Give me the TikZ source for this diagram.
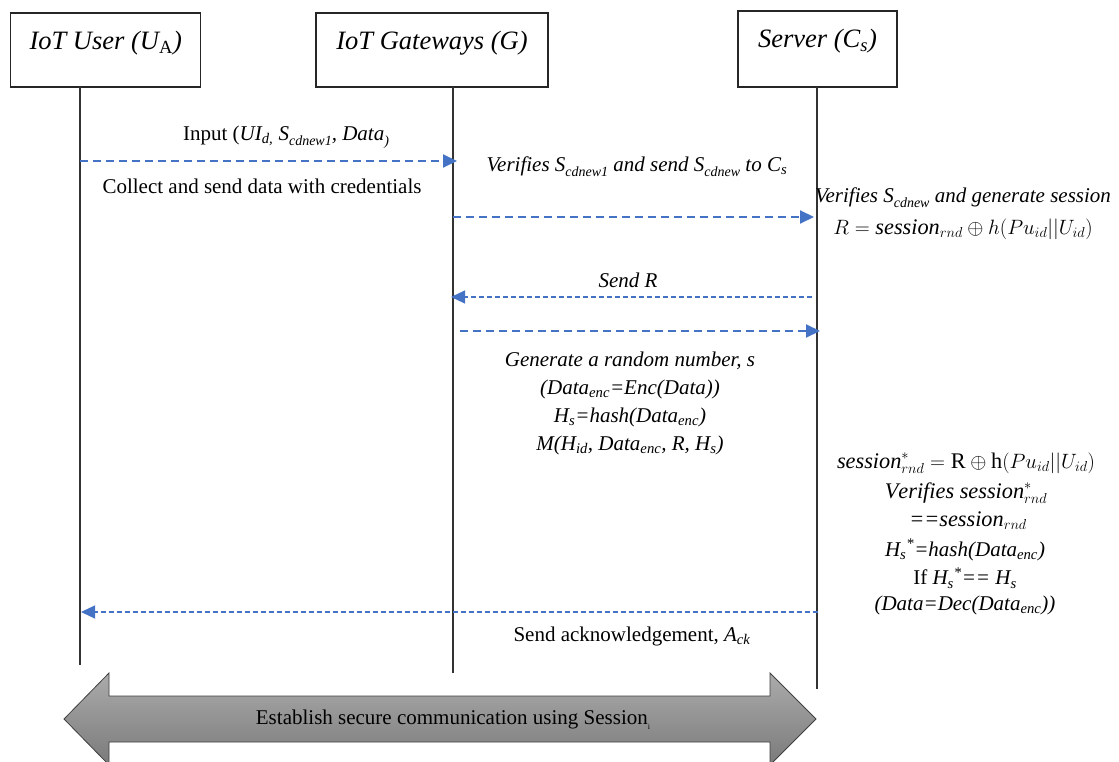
\documentclass[tikz,border=0pt]{standalone}
\usepackage{fontspec}
\setmainfont{Liberation Serif}
\usetikzlibrary{arrows.meta}
\newcommand\lsub[1]{\raisebox{-0.55ex}{\fontsize{14}{14}\selectfont #1}}
\definecolor{msgblue}{HTML}{4472C4}
\tikzset{
  actorbox/.style={draw=black!85, line width=1.1pt, inner sep=0pt},
  lifeline/.style={draw=black!80, line width=1.1pt},
  bigmsg/.style={draw=msgblue, line width=2pt, dash pattern=on 8pt off 5pt, -{Triangle[length=14pt,width=13pt]}},
  smallmsg/.style={draw=msgblue, line width=1.2pt, dash pattern=on 5pt off 3pt, -{Triangle[length=14pt,width=13pt]}},
  txt/.style={font=\fontsize{21}{24}\selectfont, inner sep=0pt, align=center},
  itxt/.style={font=\fontsize{21}{24}\selectfont\itshape, inner sep=0pt, align=center},
  mtxt/.style={font=\fontsize{22.3}{24}\selectfont, inner sep=0pt, align=center},
  head/.style={font=\fontsize{26.5}{30}\selectfont\itshape, inner sep=0pt},
}
\begin{document}
\begin{tikzpicture}[x=1pt,y=-1pt]
\useasboundingbox (0,0) rectangle (1119,762);

% actor boxes
\node[actorbox, minimum width=190pt, minimum height=74pt] (ua) at (105.7,50) {};
\node[actorbox, minimum width=232pt, minimum height=74pt] (g) at (432,50) {};
\node[actorbox, minimum width=159pt, minimum height=76pt] (cs) at (817.5,49) {};
\node[head] (uat) at (105.7,43) {IoT User (\textit{U}\textsubscript{\upshape A})};
\node[head] (gt) at (432,43) {IoT Gateways (\textit{G})};
\node[head] (cst) at (817.5,41) {Server (\textit{C\textsubscript{s}})};

% lifelines
\coordinate (ua1) at (80,87);  \coordinate (ua2) at (80,665);
\coordinate (g1) at (453,87);  \coordinate (g2) at (453,673);
\coordinate (cs1) at (817,87); \coordinate (cs2) at (817,689);
\draw[lifeline] (ua1) -- (ua2);
\draw[lifeline] (g1) -- (g2);
\draw[lifeline] (cs1) -- (cs2);

% messages
\coordinate (m1a) at (80,161);  \coordinate (m1b) at (457,161);
\coordinate (m2a) at (453,217); \coordinate (m2b) at (814,217);
\coordinate (m3a) at (812,297); \coordinate (m3b) at (451,297);
\coordinate (m4a) at (460,331); \coordinate (m4b) at (820,331);
\coordinate (m5a) at (818,612); \coordinate (m5b) at (81,612);
\draw[bigmsg] (m1a) -- (m1b);
\draw[bigmsg] (m2a) -- (m2b);
\draw[smallmsg] (m3a) -- (m3b);
\draw[bigmsg] (m4a) -- (m4b);
\draw[smallmsg] (m5a) -- (m5b);

% labels
\node[txt] (l1) at (286,137) {Input (\textit{UI\textsubscript{d,} S\lsub{cdnew1}, Data\lsub{)}}};
\node[txt] (l2) at (262,186) {Collect and send data with credentials};
\node[itxt] (l3) at (637,167) {Verifies S\lsub{cdnew1} and send S\lsub{cdnew} to C\textsubscript{s}};
\node[itxt] (l4) at (963,198) {Verifies S\lsub{cdnew} and generate session};
\node[mtxt] (l5) at (963,229) {$R = \mathit{session}_{rnd} \oplus h(Pu_{id}||U_{id})$};
\node[itxt] (l6) at (628,280) {Send R};
\node[itxt] (l7) at (630,403) {Generate a random number, s\\[4pt]
  (Data\textsubscript{enc}=Enc(Data))\\[4pt]
  H\textsubscript{s}=hash(Data\textsubscript{enc})\\[4pt]
  M(H\textsubscript{id}, Data\textsubscript{enc}, R, H\textsubscript{s})};
\node[mtxt] (l8a) at (966,463) {$\mathit{session}^{*}_{rnd} = \mathrm{R} \oplus \mathrm{h}(Pu_{id}||U_{id})$};
\node[mtxt] (l8b) at (966,493) {$\mathit{Verifies}\ \mathit{session}^{*}_{rnd}$};
\node[mtxt] (l8c) at (968,521) {\textit{==}$\mathit{session}_{rnd}$};
\node[txt] (l8d) at (965,550) {\textit{H\textsubscript{s}\textsuperscript{*}=hash(Data\textsubscript{enc})}};
\node[txt] (l8e) at (965,578) {If \textit{H\textsubscript{s}\textsuperscript{*}== H\textsubscript{s}}};
\node[txt] (l8f) at (965,605) {\textit{(Data=Dec(Data\textsubscript{enc}))}};
\node[txt] (l9) at (632,636) {Send acknowledgement, \textit{A\textsubscript{ck}}};

% big double arrow
\draw[draw=black!75, line width=0.8pt, top color=black!33, bottom color=black!52]
  (64,719) -- (109,673) -- (109,696) -- (770,696) -- (770,673) -- (816,719)
  -- (770,765) -- (770,742) -- (109,742) -- (109,765) -- cycle;
\node[txt] (l10) at (453,720) {Establish secure communication using Session\lsub{\fontsize{8}{8}\selectfont i}};
\end{tikzpicture}
\end{document}
